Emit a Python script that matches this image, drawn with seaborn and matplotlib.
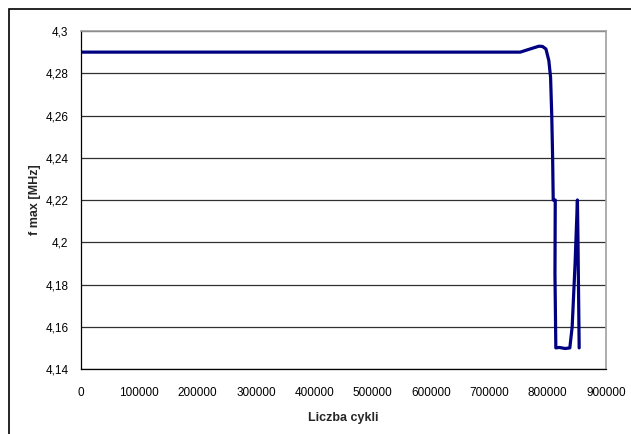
import matplotlib
matplotlib.use('Agg')
import matplotlib.pyplot as plt
import matplotlib.ticker as mticker
from matplotlib.patches import Rectangle
import pandas as pd
import seaborn as sns

sns.set_style('white')
plt.rcParams['font.family'] = ['Liberation Sans', 'DejaVu Sans']

# data
cycles = [0, 100000, 300000, 500000, 700000, 753000, 770000, 785000, 791000,
          797000, 802000, 805000, 807000, 808500, 809500, 813000, 812500, 814000,
          820000, 830000, 838000, 840000, 842000, 847000, 851000, 852000, 854000]
fmax = [4.290, 4.290, 4.290, 4.290, 4.290, 4.290, 4.2915, 4.2928, 4.2927,
        4.2915, 4.286, 4.278, 4.260, 4.240, 4.220, 4.220, 4.185, 4.150,
        4.1502, 4.1497, 4.150, 4.155, 4.160, 4.190, 4.220, 4.200, 4.150]

y_ticks = [4.14, 4.16, 4.18, 4.20, 4.22, 4.24, 4.26, 4.28, 4.30]
x_ticks = list(range(0, 900001, 100000))

df = pd.DataFrame({'Liczba cykli': cycles, 'f max [MHz]': fmax})

fig = plt.figure(figsize=(6.31, 4.34), dpi=100)
ax = fig.add_axes([81 / 631, 1 - 369 / 434, (606 - 81) / 631, (369 - 31) / 434])

sns.lineplot(data=df, x='Liczba cykli', y='f max [MHz]', sort=False,
             estimator=None, color='#000080', linewidth=2.3, ax=ax)

ax.set_xlim(0, 900000)
ax.set_ylim(4.14, 4.30)
ax.set_xticks(x_ticks)
ax.set_yticks(y_ticks)
ax.xaxis.set_major_formatter(mticker.FuncFormatter(lambda v, p: f'{int(v)}'))
ax.yaxis.set_major_formatter(
    mticker.FuncFormatter(lambda v, p: f'{round(v, 2):g}'.replace('.', ',')))
ax.tick_params(axis='both', labelsize=8.5, length=4, width=0.8,
               direction='out', colors='black', pad=5)
ax.tick_params(axis='x', pad=9)
ax.grid(axis='y', color='#303030', linewidth=0.9)
ax.grid(axis='x', visible=False)
ax.set_axisbelow(True)

for side in ['left', 'bottom']:
    ax.spines[side].set_color('black')
    ax.spines[side].set_linewidth(0.9)
for side in ['top', 'right']:
    ax.spines[side].set_color('#a0a0a0')
    ax.spines[side].set_linewidth(1.2)

ax.set_xlabel('Liczba cykli', fontsize=9, fontweight='bold', labelpad=9)
ax.set_ylabel('f max [MHz]', fontsize=9, fontweight='bold', labelpad=3)

# outer chart frame
fig.patches.append(Rectangle((9 / 631, -0.1), 1.2, 1.1 - 9 / 434,
                             transform=fig.transFigure, fill=False,
                             edgecolor='black', linewidth=1.2))

fig.savefig('out.png', dpi=100)
